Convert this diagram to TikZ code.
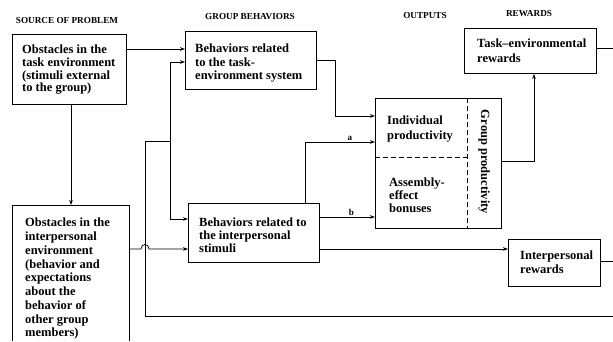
\documentclass[tikz,border=0pt]{standalone}
\usepackage{fontspec}
\setmainfont{Liberation Serif}
\usetikzlibrary{arrows.meta,calc}
\begin{document}
\begin{tikzpicture}[x=1pt,y=-1pt,
  box/.style={draw, line width=0.9pt, inner sep=0pt, anchor=north west},
  boxline/.style={line width=0.9pt},
  txt/.style={anchor=north west, inner sep=0pt, align=left, font=\bfseries\fontsize{12.5}{#1}\selectfont},
  hdr/.style={font=\bfseries\fontsize{9.2}{10}\selectfont, inner sep=0pt},
  conn/.style={line width=0.75pt},
  arr/.style={conn, -{Stealth[length=5pt,width=3.6pt]}},
  dashline/.style={line width=0.8pt, dash pattern=on 5pt off 3pt},
  lbl/.style={font=\bfseries\fontsize{9}{10}\selectfont, inner sep=1.5pt, above}
]
\useasboundingbox (0,0) rectangle (613,341);
% headers
\node[hdr] (h1) at (67,20) {SOURCE OF PROBLEM};
\node[hdr] (h2) at (250,17) {GROUP BEHAVIORS};
\node[hdr] (h3) at (425,15) {OUTPUTS};
\node[hdr] (h4) at (529,14) {REWARDS};
% boxes
\node[box, minimum width=114pt, minimum height=70pt] (b1) at (12,34) {};
\node[box, minimum width=131pt, minimum height=58pt] (b2) at (185,31) {};
\node[box, minimum width=131pt, minimum height=59pt] (b4) at (188,203) {};
\node[box, minimum width=126pt, minimum height=130pt] (out) at (375,98) {};
\node[box, minimum width=132pt, minimum height=45pt] (ter) at (464,28) {};
\node[box, minimum width=92pt, minimum height=47pt] (ipr) at (508,239) {};
\node[anchor=north west, inner sep=0pt, minimum width=117pt, minimum height=136pt] (b3) at (12,205) {};
\draw[boxline] (b3.south west) -- (b3.north west) -- (b3.north east) -- (b3.south east);
% dashed divisions
\coordinate (gx) at (467,0);
\coordinate (gy) at (0,157);
\draw[dashline] (out.north -| gx) -- (out.south -| gx);
\draw[dashline] (out.west |- gy) -- (gx |- gy);
% texts
\node[txt=12.7] (t1) at (22,45) {Obstacles in the\\task environment\\(stimuli external\\to the group)};
\node[txt=13.5] (t2) at (195,44) {Behaviors related\\to the task-\\environment system};
\node[txt=13] (t4) at (199,218) {Behaviors related to\\the interpersonal\\stimuli};
\node[txt=13.75] (t3) at (25,218) {Obstacles in the\\interpersonal\\environment\\(behavior and\\expectations\\about the\\behavior of\\other group\\members)};
\node[txt=15] (tind) at (387,116) {Individual\\productivity};
\node[txt=13] (tasm) at (389,178) {Assembly-\\effect\\bonuses};
\node[font=\bfseries\fontsize{12.5}{13}\selectfont, inner sep=0pt, rotate=-90] (tgp) at (484,162) {Group productivity};
\node[txt=15] (tter) at (477,39) {Task--environmental\\rewards};
\node[txt=14] (tipr) at (520,251) {Interpersonal\\rewards};
% connectors
\coordinate (y49) at (0,49);
\draw[arr] (b1.east |- y49) -- (b2.west |- y49);
\coordinate (fbR) at (613,316);
\coordinate (fbL) at (145,316);
\coordinate (fbT) at (145,141);
\coordinate (spl) at (170,141);
\coordinate (y62) at (0,62);
\coordinate (y219) at (0,219);
\draw[arr] (fbR) -- (fbL) -- (fbT) -- (spl) -- (spl |- y62) -- (b2.west |- y62);
\draw[arr] (spl) -- (spl |- y219) -- (b4.west |- y219);
\coordinate (y60) at (0,60);
\coordinate (x335) at (335,0);
\coordinate (y116) at (0,116);
\draw[arr] (b2.east |- y60) -- (x335 |- y60) -- (x335 |- y116) -- (out.west |- y116);
\coordinate (xa) at (305,0);
\coordinate (ya) at (0,142);
\draw[arr] (b4.north -| xa) -- (xa |- ya) -- node[lbl, pos=0.64] {a} (out.west |- ya);
\coordinate (yb) at (0,217);
\draw[arr] (b4.east |- yb) -- node[lbl, pos=0.57] {b} (out.west |- yb);
\coordinate (y249) at (0,249);
\draw[arr] (b4.east |- y249) -- (ipr.west |- y249);
\coordinate (hop) at (fbT |- y249);
\draw[arr] (b3.east |- y249) -- ($(hop)+(-4,0)$) .. controls ($(hop)+(-4,-6)$) and ($(hop)+(4,-6)$) .. ($(hop)+(4,0)$) -- (b4.west |- y249);
\coordinate (x71) at (71,0);
\draw[arr] (b1.south -| x71) -- (b3.north -| x71);
\coordinate (y161) at (0,161);
\coordinate (x534) at (534,0);
\draw[arr] (out.east |- y161) -- (x534 |- y161) -- (x534 |- ter.south);
\coordinate (ey1) at (613,48);
\draw[conn] (ter.east |- ey1) -- (ey1);
\coordinate (ey2) at (613,261);
\draw[conn] (ipr.east |- ey2) -- (ey2);
\end{tikzpicture}
\end{document}
